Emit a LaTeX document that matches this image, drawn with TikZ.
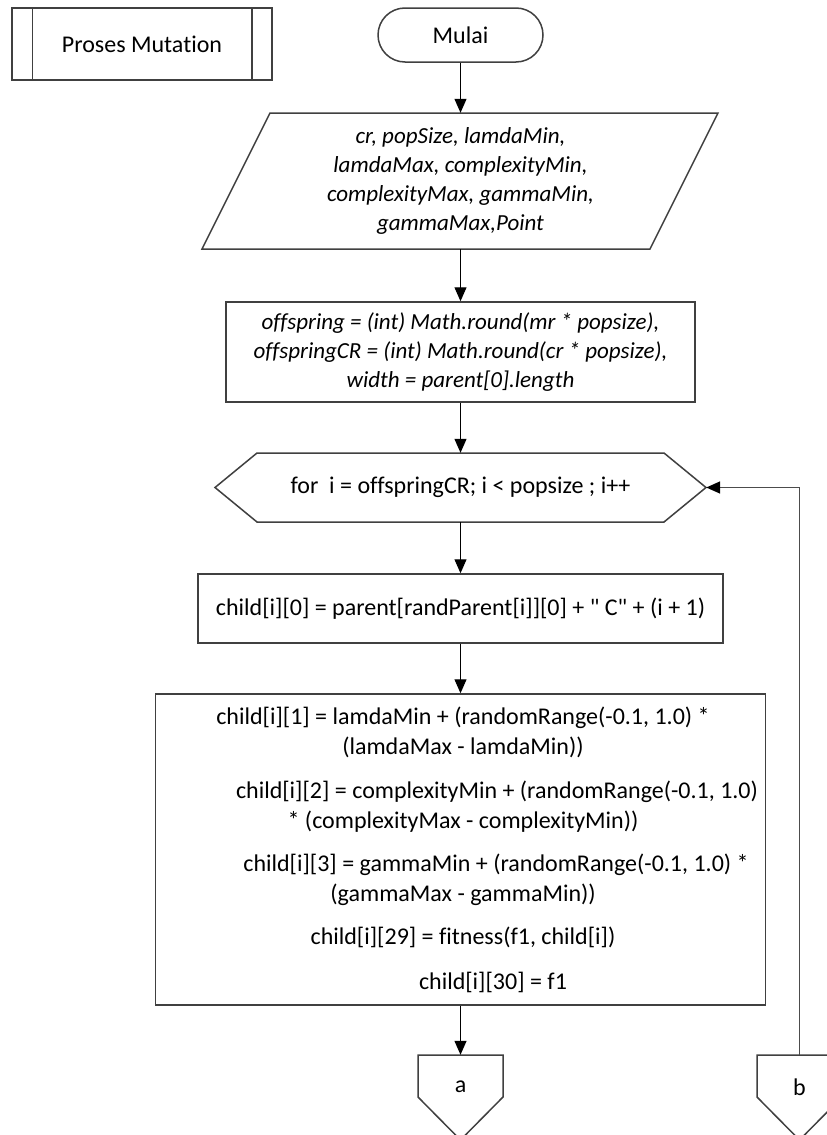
\documentclass[tikz,border=0pt]{standalone}
\usepackage{fontspec}
\setmainfont{Carlito}[Ligatures={CommonOff,TeXOff}]
\usetikzlibrary{arrows.meta}

\begin{document}
\begin{tikzpicture}[x=1pt,y=-1pt,>={Triangle[length=14pt,width=12pt]},
  shapeline/.style={draw=black!75,line width=1.5pt},
  flow/.style={->,line width=1.2pt},
  txt/.style={font=\fontsize{24}{29}\selectfont},
  itxt/.style={font=\fontsize{23}{29}\selectfont\itshape}]
  \useasboundingbox (0,0) rectangle (827,1135);
  \clip (0,0) rectangle (827,1135);
  \fill[white] (0,0) rectangle (827,1135);

  % header and start
  \node[shapeline,minimum width=260pt,minimum height=72pt,txt] (proc) at (142,44) {Proses Mutation};
  \draw[shapeline] ([xshift=21pt]proc.north west) -- ([xshift=21pt]proc.south west);
  \draw[shapeline] ([xshift=-21pt]proc.north east) -- ([xshift=-21pt]proc.south east);
  \node[shapeline,rounded corners=27pt,minimum width=165pt,minimum height=54pt,txt] (mulai) at (460.5,35) {Mulai};

  % input
  \node[minimum width=380pt,minimum height=136pt,itxt,align=center] (inp) at (460.5,181)
    {cr, popSize, lamdaMin,\\lamdaMax, complexityMin,\\complexityMax, gammaMin,\\gammaMax,Point};
  \draw[shapeline] (270,113) -- (718,113) -- (650,249) -- (202,249) -- cycle;

  % init
  \node[shapeline,minimum width=469pt,minimum height=100pt,itxt,align=center] (init) at (460.5,352)
    {offspring = (int) Math.round(mr * popsize),\\offspringCR = (int) Math.round(cr * popsize),\\width = parent[0].length};

  % loop
  \node[minimum width=491pt,minimum height=69pt,txt] (loop) at (460.5,487.5) {for\ \ i = offspringCR; i < popsize ; i++};
  \draw[shapeline] (215,487.5) -- (257,453) -- (664,453) -- (706,487.5) -- (664,522) -- (257,522) -- cycle;

  % body
  \node[shapeline,minimum width=525pt,minimum height=69pt,txt] (child0) at (460.5,608.5)
    {child[i][0] = parent[randParent[i]][0] + " C" + (i + 1)};
  \node[shapeline,minimum width=610pt,minimum height=311pt] (mutate) at (460.5,849.5) {};
  \node[txt] (t1) at (463,718) {child[i][1] = lamdaMin + (randomRange(-0.1, 1.0) *};
  \node[txt] (t2) at (463,747) {(lamdaMax - lamdaMin))};
  \node[txt] (t3) at (497,792) {child[i][2] = complexityMin + (randomRange(-0.1, 1.0)};
  \node[txt] (t4) at (463,822) {* (complexityMax - complexityMin))};
  \node[txt] (t5) at (496,865) {child[i][3] = gammaMin + (randomRange(-0.1, 1.0) *};
  \node[txt] (t6) at (463,895) {(gammaMax - gammaMin))};
  \node[txt] (t7) at (463,937) {child[i][29] = fitness(f1, child[i])};
  \node[txt] (t8) at (493,982) {child[i][30] = f1};

  % off-page connectors
  \node[txt,minimum width=85pt,minimum height=64pt] (pa) at (460.5,1087) {a};
  \draw[shapeline] (418,1055) -- (503,1055) -- (503,1097) -- (460.5,1140) -- (418,1097) -- cycle;
  \node[txt,minimum width=85pt,minimum height=64pt] (pb) at (799.5,1087) {b};
  \draw[shapeline] (757,1055) -- (842,1055) -- (842,1097) -- (799.5,1140) -- (757,1097) -- cycle;

  \draw[flow] (mulai) -- (inp);
  \draw[flow] (inp) -- (init);
  \draw[flow] (init) -- (loop);
  \draw[flow] (loop) -- (child0);
  \draw[flow] (child0) -- (mutate);
  \draw[flow] (mutate) -- (pa);
  \draw[-{Triangle[length=14pt,width=12pt,color=black]},draw=black!70,line width=1.6pt] (pb) |- (loop);
\end{tikzpicture}
\end{document}
